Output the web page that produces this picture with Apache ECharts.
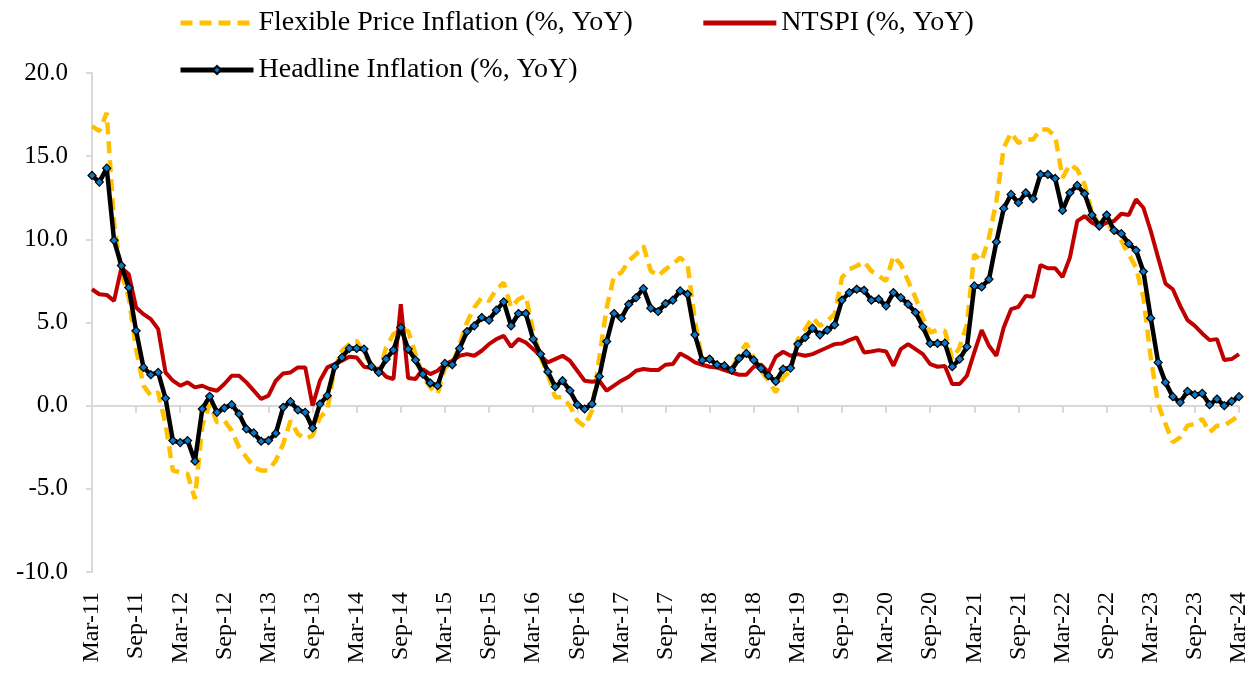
<!DOCTYPE html>
<html>
<head>
<meta charset="utf-8">
<title>Inflation chart</title>
<script src="https://cdn.jsdelivr.net/npm/echarts@6/dist/echarts.min.js"></script>
<style>
  html, body { margin: 0; padding: 0; background: #fff; }
  #chart { width: 1260px; height: 675px; }
</style>
</head>
<body>
<div id="chart"></div>
<script>
/* 月份标签：Mar-11 ... Mar-24 */
const monthNames = ['Jan', 'Feb', 'Mar', 'Apr', 'May', 'Jun', 'Jul', 'Aug', 'Sep', 'Oct', 'Nov', 'Dec']
const categories = []
for (let i = 0; i < 157; i++) {
  const m = (2 + i) % 12
  const y = 11 + Math.floor((2 + i) / 12)
  categories.push(monthNames[m] + '-' + y)
}

/* y 轴刻度 */
const yTicks = [-10, -5, 0, 5, 10, 15, 20]

/* 系列数据 */
const flexible = [
  16.8, 16.5, 17.6, 11.0, 8.0, 6.5, 3.4, 1.2, 0.6, 0.8, -1.1, -3.9,
  -4.0, -4.1, -5.6, -1.2, 0.1, -1.0, -0.9, -1.5, -2.5, -3.1, -3.7, -3.9,
  -3.9, -3.3, -2.3, -0.9, -1.7, -2.0, -1.8, -0.7, -0.3, 2.3, 3.3, 3.7,
  3.9, 3.1, 2.5, 1.9, 3.5, 4.3, 4.5, 4.5, 3.1, 1.8, 1.1, 0.7,
  2.3, 2.5, 3.7, 5.0, 5.9, 6.5, 6.3, 7.0, 7.4, 5.9, 6.4, 6.6,
  4.5, 2.9, 1.9, 0.5, 0.5, 0.0, -0.9, -1.26, -0.3, 2.9, 5.9, 7.8,
  8.0, 8.7, 9.1, 9.6, 8.1, 7.8, 8.2, 8.5, 8.9, 8.5, 5.1, 2.7,
  2.9, 2.5, 2.3, 2.2, 3.1, 3.74, 2.9, 2.1, 1.5, 0.8, 1.7, 2.1,
  4.0, 4.6, 5.3, 4.8, 5.1, 5.5, 7.7, 8.2, 8.4, 8.66, 8.1, 7.8,
  7.5, 9.0, 8.5, 7.5, 6.5, 5.3, 4.4, 4.54, 4.5, 2.8, 3.5, 4.9,
  9.1, 8.7, 10.1, 12.3, 15.5, 16.4, 15.8, 16.0, 16.0, 16.6, 16.6, 16.2,
  13.7, 14.5, 14.2, 13.3, 11.6, 10.9, 11.0, 10.5, 9.9, 9.1, 8.3, 6.5,
  2.9, 0.1, -1.1, -2.2, -1.9, -1.2, -1.1, -0.8, -1.6, -1.2, -1.2, -0.9,
  -0.6
]

const ntspi = [
  7.0, 6.7, 6.66, 6.3, 8.3, 7.9, 5.9, 5.5, 5.2, 4.6, 2.0, 1.5,
  1.2, 1.4, 1.1, 1.2, 1.0, 0.9, 1.3, 1.8, 1.8, 1.4, 0.9, 0.4,
  0.6, 1.5, 1.94, 2.0, 2.3, 2.3, 0.0, 1.5, 2.3, 2.5, 2.7, 2.94,
  2.9, 2.34, 2.26, 2.2, 1.74, 1.6, 6.1, 1.66, 1.6, 2.2, 1.9, 2.1,
  2.5, 2.7, 3.0, 3.1, 3.0, 3.3, 3.7, 4.0, 4.2, 3.54, 4.0, 3.8,
  3.4, 3.0, 2.6, 2.8, 3.0, 2.7, 2.1, 1.5, 1.44, 1.5, 0.9, 1.2,
  1.5, 1.74, 2.1, 2.2, 2.14, 2.14, 2.46, 2.5, 3.14, 2.9, 2.6, 2.46,
  2.34, 2.3, 2.14, 2.0, 1.86, 1.86, 2.34, 2.46, 2.0, 2.94, 3.24, 3.0,
  3.1, 3.0, 3.1, 3.3, 3.5, 3.7, 3.74, 3.94, 4.1, 3.2, 3.26, 3.34,
  3.26, 2.4, 3.4, 3.7, 3.4, 3.1, 2.5, 2.34, 2.38, 1.3, 1.3, 1.8,
  3.2, 4.54, 3.6, 3.0, 4.7, 5.8, 5.94, 6.6, 6.54, 8.46, 8.26, 8.26,
  7.74, 8.9, 11.1, 11.4, 11.0, 10.8, 11.0, 11.1, 11.54, 11.46, 12.4, 11.9,
  10.5, 8.9, 7.34, 7.0, 6.0, 5.14, 4.8, 4.34, 3.94, 4.0, 2.74, 2.8,
  3.1
]

const headline = [
  13.84, 13.44, 14.28, 9.94, 8.42, 7.1, 4.5, 2.3, 1.86, 2.0, 0.44, -2.1,
  -2.22, -2.1, -3.34, -0.2, 0.56, -0.4, -0.14, 0.06, -0.5, -1.4, -1.64, -2.14,
  -2.1, -1.66, -0.1, 0.24, -0.26, -0.4, -1.34, 0.1, 0.6, 2.34, 2.9, 3.44,
  3.44, 3.4, 2.36, 2.0, 2.8, 3.34, 4.7, 3.4, 2.74, 1.9, 1.36, 1.2,
  2.54, 2.46, 3.44, 4.46, 4.8, 5.3, 5.14, 5.74, 6.24, 4.8, 5.54, 5.54,
  4.0, 3.1, 2.04, 1.14, 1.5, 0.9, 0.06, -0.2, 0.1, 1.76, 3.86, 5.54,
  5.26, 6.1, 6.5, 7.04, 5.86, 5.66, 6.14, 6.34, 6.9, 6.7, 4.26, 2.74,
  2.8, 2.46, 2.4, 2.14, 2.84, 3.14, 2.74, 2.24, 1.8, 1.46, 2.2, 2.26,
  3.7, 4.1, 4.66, 4.26, 4.54, 4.86, 6.34, 6.8, 7.0, 6.94, 6.34, 6.4,
  6.0, 6.8, 6.5, 6.1, 5.6, 4.74, 3.74, 3.74, 3.76, 2.34, 2.8, 3.54,
  7.2, 7.14, 7.6, 9.84, 11.86, 12.7, 12.2, 12.8, 12.44, 13.9, 13.9, 13.66,
  11.74, 12.8, 13.24, 12.74, 11.46, 10.8, 11.46, 10.54, 10.34, 9.74, 9.34, 8.06,
  5.26, 2.6, 1.4, 0.54, 0.2, 0.86, 0.66, 0.74, 0.06, 0.4, 0.0, 0.26,
  0.54
]

const FONT = '"Liberation Serif", "Times New Roman", serif'

const chart = echarts.init(document.getElementById('chart'))
chart.setOption({
  animation: false,
  backgroundColor: '#fff',
  /* 图例，两行 */
  legend: [
    {
      data: [
        { name: 'Flexible Price Inflation (%, YoY)', itemStyle: { opacity: 0 } },
        { name: 'NTSPI (%, YoY)', itemStyle: { opacity: 0 } }
      ],
      left: 173,
      top: 4,
      itemWidth: 73,
      itemHeight: 14,
      itemGap: 68,
      lineStyle: { width: 5 },
      textStyle: { fontFamily: FONT, fontSize: 28, color: '#000' }
    },
    {
      data: ['Headline Inflation (%, YoY)'],
      left: 173,
      top: 48,
      itemWidth: 73,
      itemHeight: 10,
      lineStyle: { width: 5 },
      textStyle: { fontFamily: FONT, fontSize: 28, color: '#000', lineHeight: 34 }
    }
  ],
  grid: { left: 92, right: 21, top: 73, bottom: 103, outerBoundsMode: 'none' },
  xAxis: [
    /* 零线与刻度 */
    {
      type: 'category',
      data: categories,
      position: 'bottom',
      boundaryGap: false,
      axisLine: { onZero: true, lineStyle: { color: '#d9d9d9', width: 2 } },
      axisTick: { show: true, interval: 5, length: 7, lineStyle: { color: '#d9d9d9', width: 2 } },
      axisLabel: { show: false },
      splitLine: { show: false }
    },
    /* 底部标签 */
    {
      type: 'category',
      data: categories,
      position: 'bottom',
      boundaryGap: false,
      axisLine: { show: false, onZero: false },
      axisTick: { show: false },
      axisLabel: {
        interval: 5,
        rotate: 90,
        margin: 20,
        fontFamily: FONT,
        fontSize: 24,
        color: '#000'
      },
      splitLine: { show: false }
    }
  ],
  yAxis: {
    type: 'value',
    min: yTicks[0],
    max: yTicks[yTicks.length - 1],
    interval: 5,
    axisLine: { show: true, onZero: false, lineStyle: { color: '#d9d9d9', width: 2 } },
    axisTick: { show: true, length: 6, lineStyle: { color: '#d9d9d9', width: 2 } },
    axisLabel: {
      margin: 24,
      fontFamily: FONT,
      fontSize: 25,
      color: '#000',
      formatter: (v) => v.toFixed(1)
    },
    splitLine: { show: false }
  },
  series: [
    {
      name: 'Flexible Price Inflation (%, YoY)',
      type: 'line',
      data: flexible,
      showSymbol: false,
      color: '#ffc000',
      lineStyle: { color: '#ffc000', width: 4.5, type: [12, 7] },
      z: 2
    },
    {
      name: 'NTSPI (%, YoY)',
      type: 'line',
      data: ntspi,
      showSymbol: false,
      color: '#c00000',
      lineStyle: { color: '#c00000', width: 4 },
      z: 3
    },
    {
      name: 'Headline Inflation (%, YoY)',
      type: 'line',
      data: headline,
      symbol: 'diamond',
      symbolSize: 8,
      showAllSymbol: true,
      color: '#0070c0',
      itemStyle: { color: '#0a78c8', borderColor: '#000', borderWidth: 1.2 },
      lineStyle: { color: '#000', width: 4.5 },
      z: 4
    }
  ]
})
</script>
</body>
</html>
